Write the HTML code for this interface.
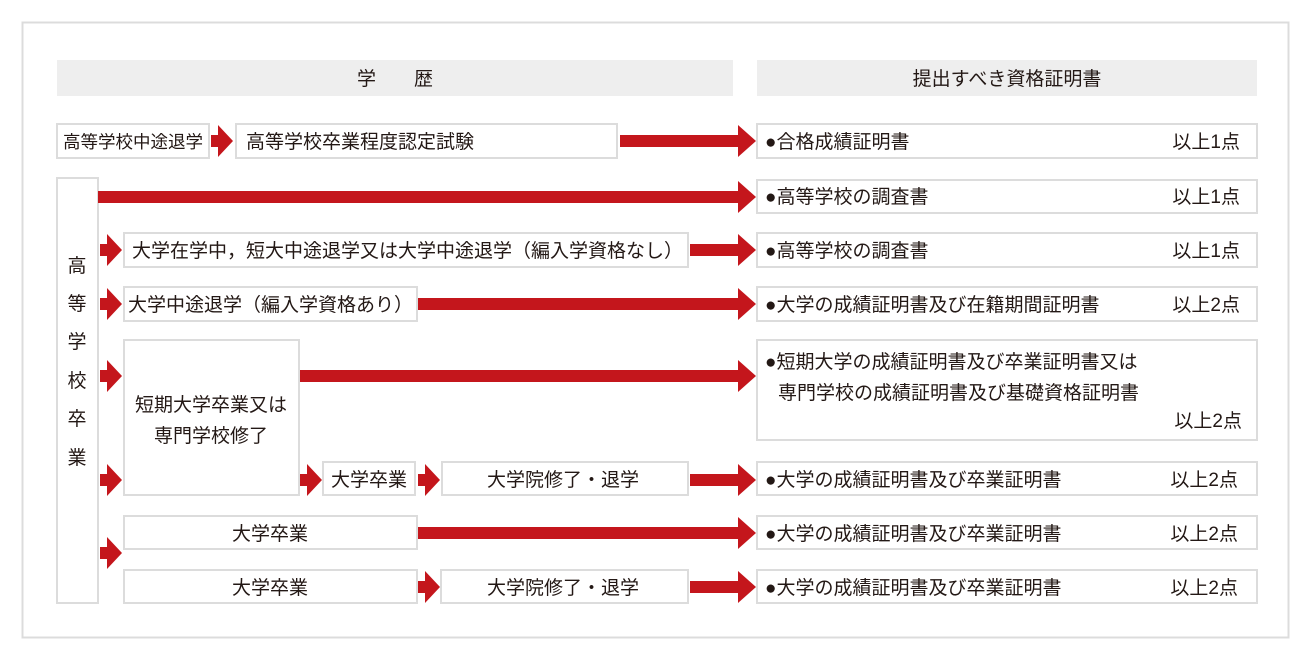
<!DOCTYPE html>
<html><head><meta charset="utf-8"><style>
html,body{margin:0;padding:0;background:#fff;}
svg{display:block;}
text{font-family:"Liberation Sans","Noto Sans CJK JP",sans-serif;font-size:19px;fill:#231815;}
.b{fill:#fff;stroke:#dcdcdc;stroke-width:2;}
.r{fill:#c4161c;}
</style></head><body>
<svg width="1310" height="658" xmlns="http://www.w3.org/2000/svg">
<rect x="22.5" y="22.5" width="1266" height="615" fill="#fff" stroke="#dcdcdc" stroke-width="2"/>
<rect x="57" y="60" width="676" height="36" fill="#eeeeee"/>
<rect x="757" y="60" width="500" height="36" fill="#eeeeee"/>
<text x="395" y="85" text-anchor="middle">学　　歴</text>
<text x="1007" y="85" text-anchor="middle">提出すべき資格証明書</text>

<rect class="b" x="57" y="124" width="152" height="34"/>
<text x="133" y="148" text-anchor="middle" style="font-size:17.5px">高等学校中途退学</text>
<rect class="b" x="236" y="124" width="381" height="34"/>
<text x="246" y="148">高等学校卒業程度認定試験</text>

<rect class="b" x="57" y="178" width="41" height="425"/>
<g text-anchor="middle">
<text x="77" y="272">高</text><text x="77" y="310">等</text><text x="77" y="348">学</text>
<text x="77" y="387">校</text><text x="77" y="425">卒</text><text x="77" y="464">業</text>
</g>

<rect class="b" x="124" y="233" width="564" height="34"/>
<text x="132" y="257">大学在学中，短大中途退学又は大学中途退学（編入学資格なし）</text>
<rect class="b" x="124" y="287" width="293" height="34"/>
<text x="128" y="311">大学中途退学（編入学資格あり）</text>
<rect class="b" x="124" y="340" width="175" height="155"/>
<text x="211" y="411" text-anchor="middle">短期大学卒業又は</text>
<text x="211" y="442" text-anchor="middle">専門学校修了</text>
<rect class="b" x="323" y="462" width="92" height="33"/>
<text x="369" y="486" text-anchor="middle">大学卒業</text>
<rect class="b" x="442" y="462" width="246" height="33"/>
<text x="563" y="486" text-anchor="middle">大学院修了・退学</text>
<rect class="b" x="124" y="516" width="293" height="33"/>
<text x="270" y="540" text-anchor="middle">大学卒業</text>
<rect class="b" x="124" y="570" width="293" height="33"/>
<text x="270" y="594" text-anchor="middle">大学卒業</text>
<rect class="b" x="441" y="570" width="247" height="33"/>
<text x="563" y="594" text-anchor="middle">大学院修了・退学</text>

<rect class="b" x="757" y="124" width="500" height="34"/>
<text x="765" y="148">●合格成績証明書</text><text x="1240" y="148" text-anchor="end">以上1点</text>
<rect class="b" x="757" y="180" width="500" height="33"/>
<text x="765" y="203">●高等学校の調査書</text><text x="1240" y="203" text-anchor="end">以上1点</text>
<rect class="b" x="757" y="233" width="500" height="34"/>
<text x="765" y="257">●高等学校の調査書</text><text x="1240" y="257" text-anchor="end">以上1点</text>
<rect class="b" x="757" y="287" width="500" height="34"/>
<text x="765" y="311">●大学の成績証明書及び在籍期間証明書</text><text x="1240" y="311" text-anchor="end">以上2点</text>
<rect class="b" x="757" y="340" width="500" height="100"/>
<text x="765" y="368">●短期大学の成績証明書及び卒業証明書又は</text>
<text x="778" y="399">専門学校の成績証明書及び基礎資格証明書</text>
<text x="1242" y="427" text-anchor="end">以上2点</text>
<rect class="b" x="757" y="462" width="500" height="33"/>
<text x="765" y="486">●大学の成績証明書及び卒業証明書</text><text x="1238" y="486" text-anchor="end">以上2点</text>
<rect class="b" x="757" y="516" width="500" height="33"/>
<text x="765" y="540">●大学の成績証明書及び卒業証明書</text><text x="1238" y="540" text-anchor="end">以上2点</text>
<rect class="b" x="757" y="570" width="500" height="33"/>
<text x="765" y="594">●大学の成績証明書及び卒業証明書</text><text x="1238" y="594" text-anchor="end">以上2点</text>

<g class="r">
<polygon points="620,135 738,135 738,125 756,141 738,157 738,147 620,147"/>
<polygon points="211,135 218,135 218,125 233,141 218,157 218,147 211,147"/>
<polygon points="98,191 738,191 738,181 756,197 738,213 738,203 98,203"/>
<polygon points="100,244 107,244 107,234 122,250 107,266 107,256 100,256"/>
<polygon points="690,244 738,244 738,234 756,250 738,266 738,256 690,256"/>
<polygon points="100,298 107,298 107,288 122,304 107,320 107,310 100,310"/>
<polygon points="418,298 738,298 738,288 756,304 738,320 738,310 418,310"/>
<polygon points="100,370 107,370 107,360 122,376 107,392 107,382 100,382"/>
<polygon points="300,370 738,370 738,360 756,376 738,392 738,382 300,382"/>
<polygon points="100,474 107,474 107,464 122,480 107,496 107,486 100,486"/>
<polygon points="300,474 307,474 307,464 322,480 307,496 307,486 300,486"/>
<polygon points="418,474 425,474 425,464 440,480 425,496 425,486 418,486"/>
<polygon points="690,474 738,474 738,464 756,480 738,496 738,486 690,486"/>
<polygon points="418,527 738,527 738,517 756,533 738,549 738,539 418,539"/>
<polygon points="100,547 107,547 107,537 122,553 107,569 107,559 100,559"/>
<polygon points="418,581 425,581 425,571 440,587 425,603 425,593 418,593"/>
<polygon points="690,581 738,581 738,571 756,587 738,603 738,593 690,593"/>
</g>
</svg>
</body></html>
